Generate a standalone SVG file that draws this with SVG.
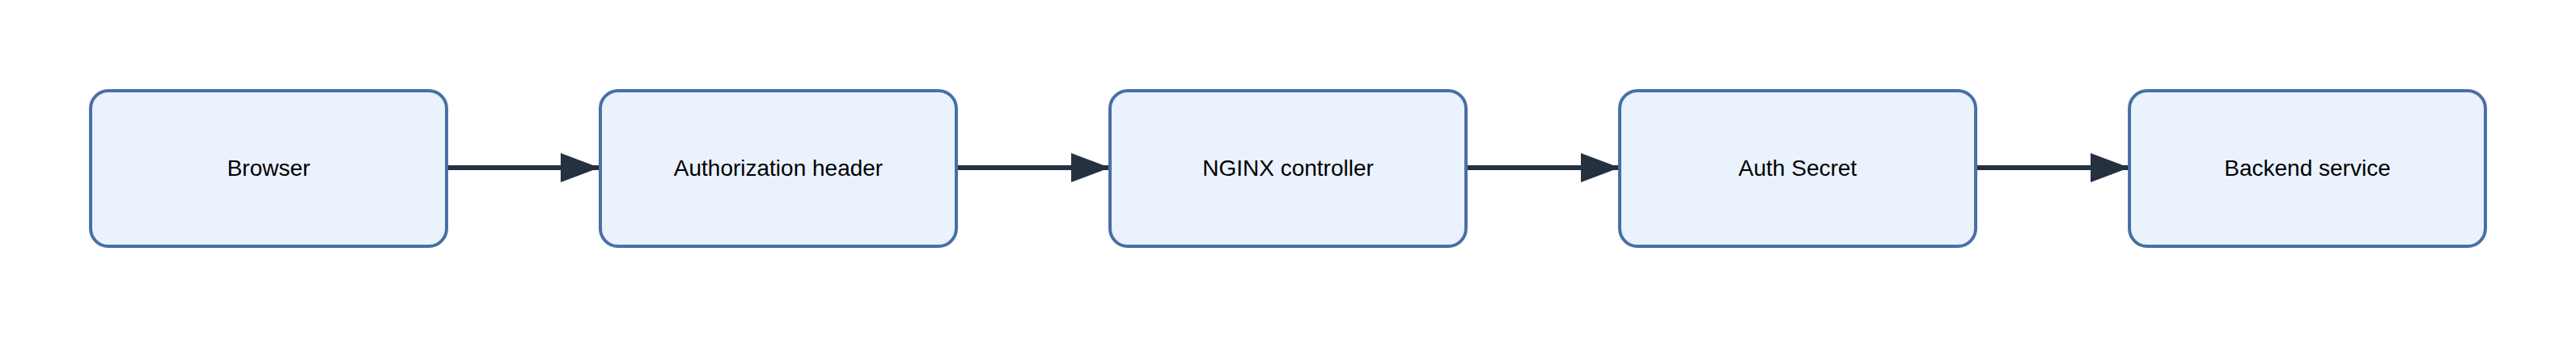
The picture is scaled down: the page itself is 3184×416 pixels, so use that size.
<svg xmlns="http://www.w3.org/2000/svg" width="3184" height="416" viewBox="0 0 3184 416">
<style>
.n rect{fill:#eaf2fe;stroke:#4a6fa5;stroke-width:4}
.n text{font-family:"Liberation Sans",Arial,sans-serif;font-size:28px;fill:#000;text-anchor:middle;dominant-baseline:central}
.e line{stroke:#253040;stroke-width:6}
</style>
<defs><marker id="a" markerUnits="userSpaceOnUse" markerWidth="48" markerHeight="36" refX="48" refY="18" orient="auto"><path d="M0,0L48,18L0,36Z" fill="#253040"/></marker></defs>
<rect width="3184" height="416" fill="#fff"/>
<g class="e">
<line x1="552" y1="207" x2="741" y2="207" marker-end="url(#a)"/>
<line x1="1182" y1="207" x2="1372" y2="207" marker-end="url(#a)"/>
<line x1="1812" y1="207" x2="2002" y2="207" marker-end="url(#a)"/>
<line x1="2442" y1="207" x2="2632" y2="207" marker-end="url(#a)"/>
</g>
<g id="browser" class="n"><rect x="112" y="112" width="440" height="192" rx="22"/><text x="332" y="207">Browser</text></g>
<g id="auth-header" class="n"><rect x="742" y="112" width="440" height="192" rx="22"/><text x="962" y="207">Authorization header</text></g>
<g id="nginx" class="n"><rect x="1372" y="112" width="440" height="192" rx="22"/><text x="1592" y="207">NGINX controller</text></g>
<g id="secret" class="n"><rect x="2002" y="112" width="440" height="192" rx="22"/><text x="2222" y="207">Auth Secret</text></g>
<g id="backend" class="n"><rect x="2632" y="112" width="440" height="192" rx="22"/><text x="2852" y="207">Backend service</text></g>
</svg>
